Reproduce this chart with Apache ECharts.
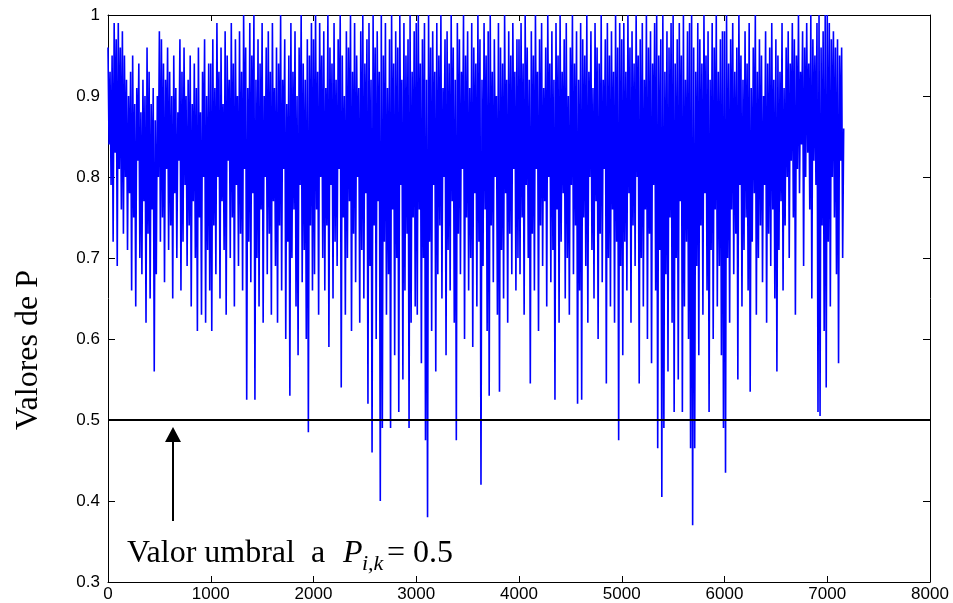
<!DOCTYPE html>
<html>
<head>
<meta charset="utf-8">
<script src="https://cdn.jsdelivr.net/npm/echarts@6/dist/echarts.min.js"></script>
<style>
  html, body { margin: 0; padding: 0; background: #fff; }
  #chart { width: 953px; height: 603px; }
</style>
</head>
<body>
<div id="chart"></div>
<script>
// each 1000-wide block: upper swings (u) at x = base + 20*i, lower swings (d) at x = base + 20*i + 10
const blockWidth = 1000;
const halfStep = 10;

const u0 = [
  0.96, 0.93, 0.95, 0.99, 0.97, 0.99, 0.96, 0.98, 0.95, 0.92,
  0.90, 0.93, 0.95, 0.89, 0.91, 0.94, 0.88, 0.92, 0.90, 0.96,
  0.93, 0.89, 0.91, 0.87, 0.90, 0.98, 0.97, 0.94, 0.92, 0.96,
  0.93, 0.90, 0.95, 0.91, 0.88, 0.97, 0.93, 0.96, 0.90, 0.92,
  0.95, 0.89, 0.94, 0.91, 0.96, 0.88, 0.93, 0.97, 0.90, 0.94
];
const d0 = [
  0.84, 0.79, 0.72, 0.83, 0.69, 0.81, 0.76, 0.73, 0.80, 0.71,
  0.78, 0.66, 0.75, 0.64, 0.82, 0.70, 0.68, 0.77, 0.62, 0.73,
  0.65, 0.76, 0.56, 0.68, 0.80, 0.72, 0.75, 0.67, 0.81, 0.71,
  0.74, 0.65, 0.78, 0.70, 0.82, 0.66, 0.72, 0.79, 0.69, 0.74,
  0.64, 0.77, 0.70, 0.61, 0.75, 0.63, 0.80, 0.62, 0.71, 0.66
];
const u1 = [
  0.94, 0.97, 0.91, 0.99, 0.93, 0.96, 0.89, 0.98, 0.95, 0.92,
  0.99, 0.94, 0.97, 0.90, 0.98, 0.93, 1.00, 0.96, 0.91, 0.99,
  0.95, 1.00, 0.92, 0.97, 0.94, 0.99, 0.90, 0.96, 0.98, 0.93,
  0.99, 0.91, 0.96, 0.94, 1.00, 0.92, 0.97, 0.89, 0.95, 0.99,
  0.93, 0.98, 0.90, 0.96, 1.00, 0.94, 0.92, 0.97, 0.95, 0.99
];
const d1 = [
  0.61, 0.74, 0.68, 0.80, 0.65, 0.77, 0.71, 0.63, 0.82, 0.70,
  0.75, 0.64, 0.79, 0.69, 0.73, 0.66, 0.81, 0.525, 0.72, 0.67,
  0.78, 0.525, 0.70, 0.64, 0.76, 0.62, 0.80, 0.68, 0.73, 0.63,
  0.77, 0.69, 0.62, 0.74, 0.66, 0.81, 0.60, 0.72, 0.53, 0.70,
  0.76, 0.64, 0.58, 0.79, 0.67, 0.71, 0.60, 0.485, 0.74, 0.66
];
const u2 = [
  0.97, 1.00, 0.93, 0.99, 0.95, 0.98, 0.91, 1.00, 0.96, 0.94,
  0.99, 0.92, 0.97, 1.00, 0.95, 0.90, 0.98, 0.96, 1.00, 0.93,
  0.99, 0.95, 0.91, 0.98, 1.00, 0.94, 0.97, 0.99, 0.92, 1.00,
  0.96, 0.98, 0.93, 1.00, 0.95, 0.99, 0.91, 0.97, 1.00, 0.94,
  0.98, 0.96, 1.00, 0.92, 0.99, 0.95, 0.97, 1.00, 0.93, 0.98
];
const d2 = [
  0.68, 0.76, 0.63, 0.80, 0.70, 0.66, 0.74, 0.59, 0.79, 0.65,
  0.72, 0.69, 0.81, 0.54, 0.75, 0.63, 0.70, 0.77, 0.61, 0.73,
  0.67, 0.80, 0.62, 0.71, 0.65, 0.78, 0.52, 0.69, 0.46, 0.74,
  0.60, 0.77, 0.40, 0.49, 0.72, 0.63, 0.68, 0.49, 0.76, 0.58,
  0.70, 0.51, 0.79, 0.55, 0.66, 0.73, 0.49, 0.62, 0.75, 0.64
];
const u3 = [
  0.99, 1.00, 0.94, 0.97, 0.99, 0.92, 1.00, 0.96, 0.98, 0.93,
  0.99, 0.95, 1.00, 0.91, 0.97, 0.98, 0.94, 1.00, 0.96, 0.92,
  0.99, 0.97, 0.93, 1.00, 0.95, 0.98, 0.91, 0.99, 0.96, 0.94,
  1.00, 0.97, 0.92, 0.99, 0.95, 0.98, 1.00, 0.93, 0.97, 0.90,
  0.99, 0.96, 0.94, 1.00, 0.92, 0.98, 0.95, 0.99, 0.93, 0.97
];
const d3 = [
  0.63, 0.76, 0.57, 0.70, 0.475, 0.38, 0.72, 0.61, 0.79, 0.56,
  0.68, 0.74, 0.65, 0.80, 0.58, 0.71, 0.66, 0.77, 0.62, 0.475,
  0.73, 0.68, 0.81, 0.60, 0.75, 0.66, 0.70, 0.59, 0.78, 0.64,
  0.72, 0.42, 0.69, 0.76, 0.61, 0.53, 0.74, 0.67, 0.80, 0.63,
  0.535, 0.71, 0.65, 0.78, 0.62, 0.73, 0.68, 0.81, 0.66, 0.70
];
const u4 = [
  0.97, 0.99, 0.94, 1.00, 0.96, 0.92, 0.98, 0.95, 1.00, 0.93,
  0.97, 0.99, 0.91, 0.96, 1.00, 0.94, 0.98, 0.92, 0.99, 0.95,
  1.00, 0.93, 0.97, 0.99, 0.90, 0.96, 1.00, 0.94, 0.98, 0.92,
  0.99, 0.97, 0.95, 1.00, 0.93, 0.98, 0.91, 0.99, 0.96, 0.94,
  1.00, 0.92, 0.97, 0.99, 0.95, 0.98, 0.93, 1.00, 0.96, 0.99
];
const d4 = [
  0.68, 0.75, 0.63, 0.79, 0.70, 0.545, 0.73, 0.66, 0.81, 0.61,
  0.74, 0.69, 0.77, 0.64, 0.80, 0.67, 0.71, 0.525, 0.76, 0.62,
  0.72, 0.78, 0.65, 0.70, 0.63, 0.79, 0.68, 0.74, 0.52, 0.66,
  0.525, 0.75, 0.69, 0.62, 0.80, 0.71, 0.65, 0.77, 0.60, 0.73,
  0.67, 0.81, 0.545, 0.70, 0.64, 0.76, 0.62, 0.72, 0.475, 0.69
];
const u5 = [
  0.97, 0.99, 0.93, 1.00, 0.96, 0.98, 0.94, 1.00, 0.95, 0.97,
  0.99, 0.92, 1.00, 0.96, 0.98, 0.94, 0.99, 1.00, 0.95, 0.97,
  1.00, 0.93, 0.98, 0.96, 0.99, 1.00, 0.94, 0.97, 0.99, 0.95,
  1.00, 0.92, 0.98, 0.99, 1.00, 0.96, 0.93, 0.99, 0.97, 0.94,
  1.00, 0.95, 0.98, 0.92, 0.99, 0.96, 1.00, 0.93, 0.97, 0.98
];
const d5 = [
  0.58, 0.72, 0.66, 0.78, 0.62, 0.74, 0.69, 0.80, 0.545, 0.70,
  0.64, 0.76, 0.60, 0.73, 0.57, 0.79, 0.66, 0.465, 0.71, 0.405,
  0.49, 0.68, 0.56, 0.75, 0.62, 0.51, 0.70, 0.55, 0.77, 0.51,
  0.64, 0.72, 0.60, 0.465, 0.37, 0.465, 0.69, 0.58, 0.74, 0.63,
  0.78, 0.66, 0.51, 0.71, 0.60, 0.76, 0.64, 0.69, 0.58, 0.49
];
const u6 = [
  0.98, 1.00, 0.94, 0.97, 0.99, 0.93, 0.96, 1.00, 0.95, 0.92,
  0.98, 0.94, 0.99, 0.91, 0.96, 1.00, 0.93, 0.97, 0.95, 0.90,
  0.98, 0.94, 0.96, 0.99, 0.92, 0.97, 0.95, 0.93, 0.99, 0.91,
  0.96, 0.98, 0.94, 0.99, 0.97, 0.95, 1.00, 0.93, 0.98, 0.96,
  0.99, 0.94, 1.00, 0.97, 0.95, 0.99, 1.00, 0.96, 0.98, 1.00
];
const d6 = [
  0.435, 0.70, 0.62, 0.76, 0.68, 0.73, 0.55, 0.79, 0.64, 0.71,
  0.75, 0.66, 0.535, 0.72, 0.78, 0.63, 0.70, 0.74, 0.67, 0.79,
  0.62, 0.73, 0.69, 0.76, 0.65, 0.56, 0.71, 0.77, 0.66, 0.74,
  0.80, 0.70, 0.82, 0.75, 0.63, 0.81, 0.78, 0.84, 0.69, 0.80,
  0.83, 0.76, 0.65, 0.82, 0.79, 0.51, 0.505, 0.74, 0.61, 0.54
];
const u7 = [1.00, 0.99, 0.97, 0.98, 0.96, 0.97, 0.95, 0.96, 0.86];
const d7 = [0.72, 0.64, 0.80, 0.75, 0.68, 0.57, 0.82, 0.70];

const threshold = 0.5;
const xRange = [0, 8000];
const yRange = [0.3, 1];

const upper = [u0, u1, u2, u3, u4, u5, u6, u7];
const lower = [d0, d1, d2, d3, d4, d5, d6, d7];
const pData = [];
upper.forEach((uArr, b) => {
  const base = b * blockWidth;
  uArr.forEach((v, i) => {
    pData.push([base + 2 * halfStep * i, v]);
    if (i < lower[b].length) pData.push([base + 2 * halfStep * i + halfStep, lower[b][i]]);
  });
});

const chart = echarts.init(document.getElementById('chart'), null, { renderer: 'canvas' });

const axisLine = { show: true, onZero: false, lineStyle: { color: '#000', width: 1 } };
const labelFont = { color: '#000', fontFamily: 'Liberation Sans, Arial, sans-serif', fontSize: 17 };
const serif = '"Liberation Serif", "Times New Roman", serif';

chart.setOption({
  animation: false,
  backgroundColor: '#fff',
  grid: { left: 108, right: 23, top: 15, bottom: 21, containLabel: false },
  xAxis: [
    {
      type: 'value', min: xRange[0], max: xRange[1], interval: 1000, position: 'bottom',
      axisLine: axisLine,
      axisTick: { inside: true, length: 6, lineStyle: { color: '#000' } },
      axisLabel: Object.assign({ margin: 4, formatter: v => String(v) }, labelFont),
      splitLine: { show: false }
    },
    {
      type: 'value', min: xRange[0], max: xRange[1], interval: 1000, position: 'top',
      axisLine: axisLine,
      axisTick: { inside: true, length: 6, lineStyle: { color: '#000' } },
      axisLabel: { show: false },
      splitLine: { show: false }
    }
  ],
  yAxis: [
    {
      type: 'value', min: yRange[0], max: yRange[1], interval: 0.1, position: 'left',
      axisLine: axisLine,
      axisTick: { inside: true, length: 7, lineStyle: { color: '#000' } },
      axisLabel: Object.assign({ margin: 8, formatter: v => String(+v.toFixed(1)) }, labelFont),
      splitLine: { show: false }
    },
    {
      type: 'value', min: yRange[0], max: yRange[1], interval: 0.1, position: 'right',
      axisLine: axisLine,
      axisTick: { inside: true, length: 7, lineStyle: { color: '#000' } },
      axisLabel: { show: false },
      splitLine: { show: false }
    }
  ],
  series: [
    {
      type: 'line',
      data: pData,
      showSymbol: false,
      symbol: 'none',
      lineStyle: { color: '#0000ff', width: 1.6 },
      z: 2
    },
    {
      type: 'line',
      data: [[xRange[0], threshold], [xRange[1], threshold]],
      showSymbol: false,
      symbol: 'none',
      lineStyle: { color: '#000', width: 2 },
      z: 3
    }
  ],
  graphic: [
    {
      type: 'text', x: 29, y: 350, rotation: Math.PI / 2,
      style: { text: 'Valores de P', font: '32px ' + serif,
               fill: '#000', align: 'center', verticalAlign: 'middle' }
    },
    // arrow pointing at the threshold
    { type: 'line', shape: { x1: 173, y1: 521, x2: 173, y2: 440 }, style: { stroke: '#000', lineWidth: 2 } },
    { type: 'polygon', shape: { points: [[173, 427], [165, 442], [181, 442]] }, style: { fill: '#000' } },
    {
      type: 'text', x: 127, y: 538,
      style: { text: 'Valor umbral  a', font: '32px ' + serif, fill: '#000', align: 'left', verticalAlign: 'top' }
    },
    {
      type: 'text', x: 343, y: 538,
      style: { text: 'P', font: 'italic 32px ' + serif, fill: '#000', align: 'left', verticalAlign: 'top' }
    },
    {
      type: 'text', x: 362, y: 553,
      style: { text: 'i,k', font: 'italic 22px ' + serif, fill: '#000', align: 'left', verticalAlign: 'top' }
    },
    {
      type: 'text', x: 387, y: 538,
      style: { text: '= 0.5', font: '32px ' + serif, fill: '#000', align: 'left', verticalAlign: 'top' }
    }
  ]
});
</script>
</body>
</html>
